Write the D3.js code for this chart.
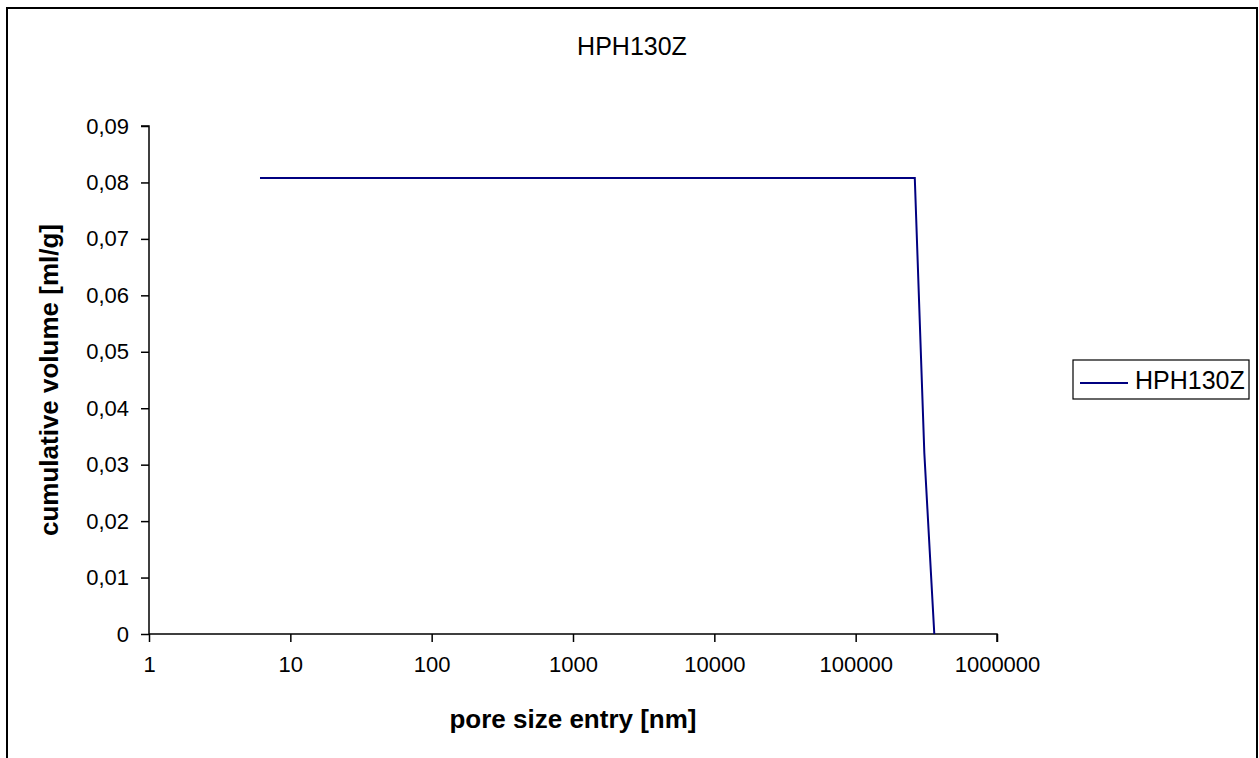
<!DOCTYPE html>
<html><head><meta charset="utf-8">
<script src="https://cdn.jsdelivr.net/npm/d3@7"></script>
<style>body{margin:0;background:#fff}svg{display:block}text{font-family:"Liberation Sans",Arial,sans-serif;fill:#000}</style>
</head><body><svg id="c" width="1259" height="758"></svg>
<script>
const title = "HPH130Z";
const seriesName = "HPH130Z";
const poreSize = [6.1, 262000, 306000, 360000];
const cumVolume = [0.0808, 0.0808, 0.0321, 0];
const xTicks = [1, 10, 100, 1000, 10000, 100000, 1000000];
const yTicks = [0, 0.01, 0.02, 0.03, 0.04, 0.05, 0.06, 0.07, 0.08, 0.09];
const xLabel = "pore size entry [nm]";
const yLabel = "cumulative volume [ml/g]";

const svg = d3.select("#c");
svg.append("rect").attr("x",7).attr("y",8).attr("width",1250).attr("height",780)
  .attr("fill","#fff").attr("stroke","#000").attr("stroke-width",2);

const L=149, R=997, T=126, B=634;
const x = d3.scaleLog().domain([1,1000000]).range([L,R]);
const y = d3.scaleLinear().domain([0,0.09]).range([B,T]);

const fmt = d => d3.format(".2f")(d).replace(".", ",");
const yAxis = svg.append("g").attr("transform",`translate(${L},0)`)
  .call(d3.axisLeft(y).tickValues(yTicks).tickSize(8).tickPadding(12)
    .tickFormat(d => d===0 ? "0" : fmt(d)));
const xAxis = svg.append("g").attr("transform",`translate(0,${B})`)
  .call(d3.axisBottom(x).tickValues(xTicks).tickSize(8).tickPadding(14)
    .tickFormat(d3.format("d")));
[xAxis,yAxis].forEach(a=>{
  a.selectAll("path").attr("stroke","#000").attr("stroke-width",1.5);
  a.selectAll("line").attr("stroke","#000").attr("stroke-width",1.5);
  a.selectAll("text").attr("font-size",22).attr("font-family","Liberation Sans, Arial, sans-serif").attr("fill","#000");
});
yAxis.select("path").attr("d",`M0,${B}V${T}H-8`);
xAxis.select("path").attr("d",`M${L},0H${R}V8`);

const pts = poreSize.map((p,i)=>[p,cumVolume[i]]);
svg.append("path").datum(pts)
  .attr("d", d3.line().x(d=>x(d[0])).y(d=>y(d[1])))
  .attr("fill","none").attr("stroke","#000080").attr("stroke-width",2);

svg.append("text").attr("x",632).attr("y",55).attr("text-anchor","middle")
  .attr("font-size",25).text(title);
svg.append("text").attr("x",(L+R)/2).attr("y",728).attr("text-anchor","middle")
  .attr("font-size",26).attr("font-weight","bold").text(xLabel);
svg.append("text").attr("transform",`translate(58,${(T+B)/2}) rotate(-90)`)
  .attr("text-anchor","middle").attr("font-size",26).attr("font-weight","bold").text(yLabel);

const lg = svg.append("g");
lg.append("rect").attr("x",1073).attr("y",360).attr("width",176).attr("height",39)
  .attr("fill","#fff").attr("stroke","#000").attr("stroke-width",1.2);
lg.append("line").attr("x1",1080).attr("x2",1128).attr("y1",383).attr("y2",383)
  .attr("stroke","#000080").attr("stroke-width",2);
lg.append("text").attr("x",1135).attr("y",389).attr("font-size",25).text(seriesName);
</script></body></html>
